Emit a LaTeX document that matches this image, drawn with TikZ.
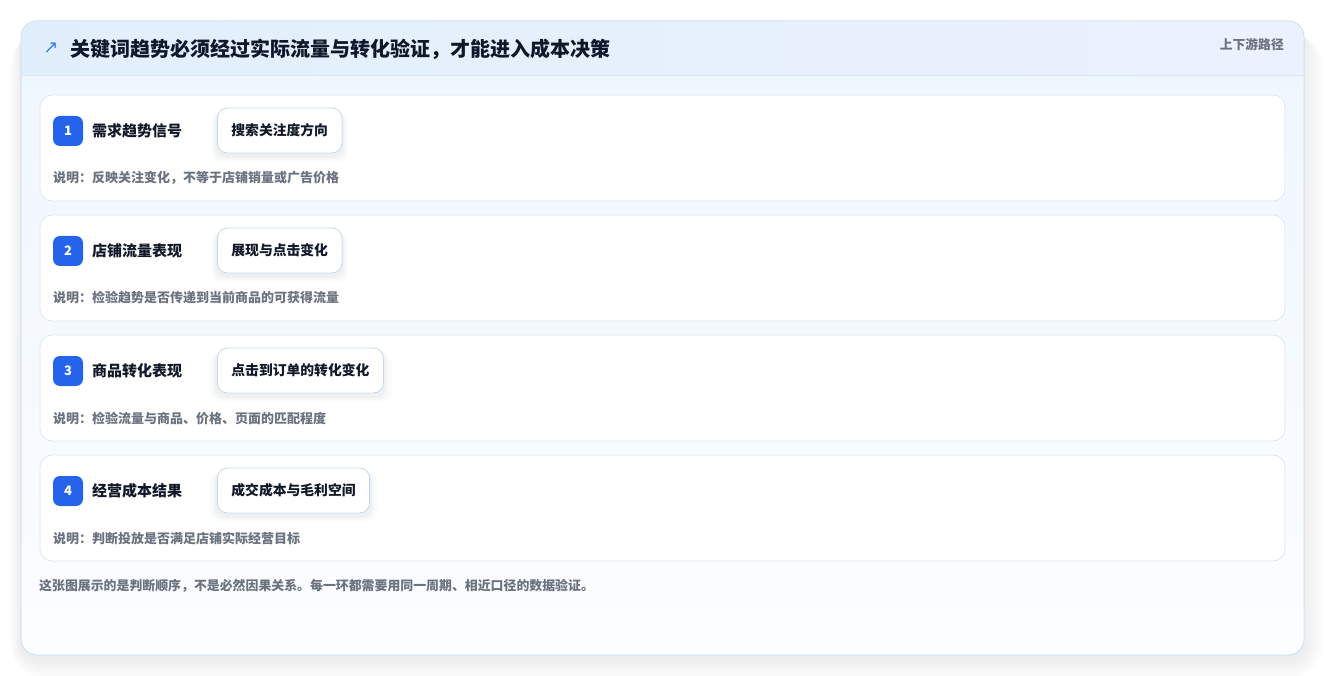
\documentclass[tikz,border=0pt]{standalone}
\usepackage{fontspec}
\setmainfont{Noto Sans CJK SC}
\newfontfamily\symfont{DejaVu Sans}
\usetikzlibrary{shadows}
\definecolor{cardborder}{HTML}{CFE3F2}
\definecolor{headL}{HTML}{E1EFFC}
\definecolor{headR}{HTML}{ECF2FD}
\definecolor{bodyT}{HTML}{EEF6FE}
\definecolor{bodyB}{HTML}{FCFDFF}
\definecolor{stepborder}{HTML}{DCE8F4}
\definecolor{badgeblue}{HTML}{2563EB}
\definecolor{ink}{HTML}{111827}
\definecolor{titleink}{HTML}{0F172A}
\definecolor{muted}{HTML}{6B7280}
\definecolor{chipborder}{HTML}{C6D8EE}
\definecolor{iconblue}{HTML}{3B82F6}
\definecolor{shadowc}{HTML}{1E3A5F}
\tikzset{
  stepcard/.style={draw=stepborder, line width=0.8pt, fill=white, rounded corners=12pt,
    minimum width=1245pt, minimum height=106pt, inner sep=0pt},
  badge/.style={fill=badgeblue, text=white, rounded corners=7pt, minimum size=30pt,
    inner sep=0pt, font=\fontsize{13}{15}\selectfont\bfseries},
  lbl/.style={anchor=west, inner sep=0pt, text=ink, font=\fontsize{15}{18}\selectfont\bfseries,
    text height=13.2pt, text depth=1.8pt},
  chip/.style={anchor=west, draw=chipborder, line width=0.8pt, fill=white, rounded corners=10pt,
    inner xsep=14pt, inner ysep=0pt, minimum height=45pt, text=ink,
    font=\fontsize{13.8}{16}\selectfont\bfseries, text height=12.1pt, text depth=1.7pt,
    general shadow={fill=shadowc, opacity=0.018, shadow scale=1.10, shadow yshift=-6pt},
    general shadow={fill=shadowc, opacity=0.022, shadow scale=1.06, shadow yshift=-5pt},
    general shadow={fill=shadowc, opacity=0.028, shadow scale=1.03, shadow yshift=-4pt}},
  desc/.style={anchor=west, inner sep=0pt, text=muted, font=\fontsize{13}{15}\selectfont\bfseries,
    text height=11.5pt, text depth=1.5pt},
}
\begin{document}
\begin{tikzpicture}[x=1pt,y=-1pt]
\useasboundingbox (0,0) rectangle (1325,676);
\fill[white] (0,0) rectangle (1325,676);
% outer shadow
\foreach \i in {1,...,18}{
  \fill[black, opacity=0.0045, rounded corners=16+\i] (21-0.6*\i,30+0.2*\i) rectangle (1304+1.1*\i,659+1.1*\i);
}
% card body
\shade[top color=bodyT, bottom color=bodyB, rounded corners=16pt] (21,21) rectangle (1304,655);
\begin{scope}
  \clip[rounded corners=16pt] (21,21) rectangle (1304,655);
  \shade[left color=headL, right color=headR] (21,21) rectangle (1304,75);
  \draw[cardborder!80!white, line width=0.8pt] (21,75) -- (1304,75);
\end{scope}
\node[draw=cardborder, line width=1pt, rounded corners=16pt, minimum width=1283pt, minimum height=634pt, inner sep=0pt] (card) at (662.5,338) {};
% header texts
\node[anchor=center, inner sep=0pt, text=iconblue, font=\symfont\fontsize{18}{20}\selectfont] (icon) at (51,48) {↗};
\node[anchor=west, inner sep=0pt, text=titleink, font=\fontsize{20}{24}\selectfont\bfseries,
  text height=17.6pt, text depth=2.4pt] (title) at (70,48.5) {关键词趋势必须经过实际流量与转化验证，才能进入成本决策};
\node[anchor=east, inner sep=0pt, text=muted, font=\fontsize{12.8}{15}\selectfont\bfseries,
  text height=11.3pt, text depth=1.5pt] (side) at (1284,44.5) {上下游路径};
% steps
\foreach \n/\yc/\lab/\chiptext/\desctext in {
  1/148/需求趋势信号/搜索关注度方向/说明：反映关注变化，不等于店铺销量或广告价格,
  2/268/店铺流量表现/展现与点击变化/说明：检验趋势是否传递到当前商品的可获得流量,
  3/388/商品转化表现/点击到订单的转化变化/说明：检验流量与商品、价格、页面的匹配程度,
  4/508/经营成本结果/成交成本与毛利空间/说明：判断投放是否满足店铺实际经营目标}{
  \node[stepcard] (c\n) at (662.5,\yc) {};
  \node[badge] (b\n) at (68,\yc-17) {\n};
  \node[lbl] (l\n) at (92,\yc-17) {\lab};
  \node[chip] (p\n) at (217,\yc-17.5) {\chiptext};
  \node[desc] (d\n) at (53,\yc+30) {\desctext};
}
% footer
\node[anchor=west, inner sep=0pt, text=muted, font=\fontsize{12.9}{15}\selectfont\bfseries,
  text height=11.4pt, text depth=1.6pt] (foot) at (39,586) {这张图展示的是判断顺序，不是必然因果关系。每一环都需要用同一周期、相近口径的数据验证。};
\end{tikzpicture}
\end{document}
